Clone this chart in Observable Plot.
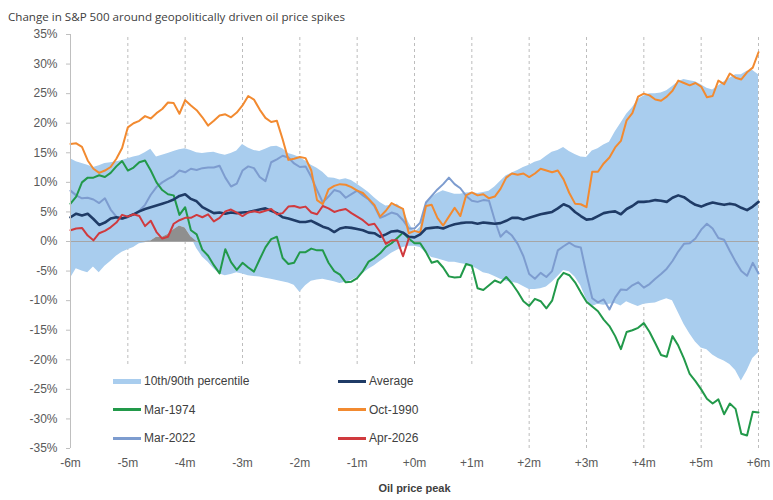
<!DOCTYPE html>
<html><head><meta charset="utf-8">
<script src="https://cdn.jsdelivr.net/npm/d3@7"></script>
<script src="https://cdn.jsdelivr.net/npm/@observablehq/plot@0.6"></script>
<style>
html,body{margin:0;padding:0;background:#fff;}
#wrap{position:relative;width:773px;height:500px;overflow:hidden;font-family:"Liberation Sans",Arial,sans-serif;}
#title{position:absolute;left:8px;top:9px;font-family:"Open Sans";font-size:11.6px;color:#404040;line-height:16px;white-space:nowrap}
#chart{position:absolute;left:0;top:26px;}
#legend{position:absolute;left:100px;top:365px;width:410px;height:84px;background:#fff;}
.item{position:absolute;display:flex;align-items:center;font-size:12px;color:#404040;white-space:nowrap;height:16px}
.sw{display:inline-block;width:28px;margin-right:3px}
</style></head>
<body>
<div id="wrap">
  <div id="title">Change in S&amp;P 500 around geopolitically driven oil price spikes</div>
  <div id="chart"></div>
  <div id="legend"></div>
</div>
<script>
// x grid: months relative to oil price peak (sampled every 0.1 month)
const months = d3.range(121).map(i => Math.round((-6 + i / 10) * 10) / 10);
const xTicks = [-6, -5, -4, -3, -2, -1, 0, 1, 2, 3, 4, 5, 6];
const gridMonths = [-5, -4, -3, -2, -1, 0, 1, 2, 3, 4, 5, 6];
const yTicks = [-35, -30, -25, -20, -15, -10, -5, 0, 5, 10, 15, 20, 25, 30, 35];

const band90 = [14.0, 13.5, 13.2, 12.9, 12.5, 12.8, 13.2, 13.3, 13.5, 13.7,
  14.0, 14.3, 14.5, 15.0, 15.6, 14.3, 14.6, 14.9, 15.2, 15.5,
  15.7, 15.4, 15.0, 14.9, 15.0, 15.1, 14.8, 14.6, 14.9, 15.3,
  16.4, 15.8, 15.4, 15.2, 15.6, 16.0, 16.1, 15.7, 14.9, 14.6,
  14.2, 13.6, 12.9, 12.4, 11.7, 10.8, 10.7, 10.4, 10.6, 10.3,
  9.7, 9.0, 8.3, 7.4, 6.6, 6.0, 6.1, 6.3, 5.5, 3.2,
  1.5, 2.4, 6.4, 7.5, 8.1, 8.6, 8.3, 8.0, 8.0, 8.2,
  8.3, 8.1, 8.3, 8.5, 9.2, 10.2, 11.1, 11.6, 12.0, 12.5,
  12.9, 13.4, 13.7, 14.4, 15.1, 15.4, 15.9, 15.2, 14.7, 14.3,
  14.2, 15.3, 15.7, 16.3, 16.8, 18.5, 20.0, 21.5, 22.6, 24.0,
  24.6, 25.0, 25.0, 25.1, 25.5, 26.2, 27.0, 27.4, 27.2, 27.0,
  26.5, 25.9, 25.6, 26.3, 27.0, 27.6, 28.2, 28.2, 28.8, 28.9,
  28.2];
const band10 = [-6.2, -4.6, -5.0, -5.3, -4.3, -5.3, -4.2, -3.4, -2.5, -1.8,
  -1.4, -1.0, -0.4, -0.2, 0.1, 0.7, 0.7, 1.2, 2.0, 2.6,
  2.3, 0.8, -1.2, -2.6, -3.5, -4.6, -5.5, -5.8, -5.6, -5.3,
  -5.5, -5.8, -5.9, -6.0, -6.2, -6.4, -6.6, -6.8, -7.0, -7.4,
  -8.6, -7.5, -6.7, -6.5, -6.4, -6.6, -6.8, -7.1, -6.9, -6.6,
  -6.1, -5.4, -4.7, -4.1, -3.4, -2.7, -2.0, -1.5, -1.0, -0.8,
  -0.8, -1.0, -1.9, -2.7, -2.9, -3.2, -3.5, -3.5, -3.7, -3.9,
  -4.2, -4.7, -5.3, -5.5, -5.9, -6.4, -6.7, -6.9, -7.1, -7.6,
  -8.1, -8.1, -8.0, -7.7, -6.9, -5.9, -4.9, -5.1, -6.0, -7.5,
  -9.8, -11.0, -10.6, -10.8, -10.6, -10.5, -10.9, -10.2, -10.6, -11.0,
  -10.6, -10.5, -10.4, -10.0, -9.7, -10.0, -12.0, -14.0, -15.6, -17.0,
  -18.0, -18.3, -19.2, -19.8, -20.2, -20.8, -21.8, -23.6, -21.9, -19.8,
  -18.8];
const average = [4.1, 4.7, 4.4, 4.7, 3.8, 2.8, 3.2, 3.9, 4.1, 3.9,
  4.2, 4.6, 5.1, 5.5, 5.8, 6.1, 6.4, 6.7, 7.1, 7.7,
  8.0, 7.2, 6.8, 5.8, 5.3, 4.8, 4.9, 4.7, 4.9, 4.8,
  4.9, 5.0, 5.2, 5.4, 5.6, 5.2, 4.8, 4.1, 3.9, 3.6,
  3.3, 3.3, 3.5, 3.0, 2.5, 2.2, 1.6, 2.2, 2.4, 2.3,
  2.1, 1.9, 1.5, 1.4, 0.8, 1.2, 1.7, 1.8, 1.5, 0.8,
  0.7, 1.2, 2.2, 2.3, 2.4, 2.2, 2.6, 2.9, 3.1, 3.2,
  3.2, 3.0, 3.2, 3.1, 3.0, 3.1, 3.5, 4.0, 4.0, 3.7,
  4.0, 4.3, 4.6, 4.8, 5.0, 5.6, 6.3, 5.9, 5.0, 4.3,
  3.7, 3.8, 4.3, 4.8, 5.0, 5.1, 4.6, 5.5, 6.0, 6.7,
  6.7, 6.8, 7.0, 6.9, 6.7, 7.4, 7.8, 7.5, 6.8, 6.2,
  5.9, 6.3, 6.6, 6.4, 6.2, 6.4, 6.2, 5.7, 5.3, 5.9,
  6.7];
const mar1974 = [6.4, 7.6, 10.0, 10.8, 10.8, 11.2, 10.9, 11.6, 12.7, 13.6,
  12.0, 12.5, 13.4, 13.7, 12.0, 10.0, 8.7, 8.0, 7.8, 4.5,
  5.8, 1.9, 1.2, -1.4, -2.4, -4.0, -5.4, -1.3, -3.5, -4.8,
  -3.6, -4.4, -5.1, -3.0, -1.0, 0.4, 0.8, -2.8, -3.8, -3.6,
  -1.8, -1.8, -1.2, -1.5, -1.5, -3.6, -5.0, -5.6, -6.9, -6.8,
  -6.2, -5.0, -3.4, -2.8, -2.0, -0.9, -0.3, 0.6, 1.5, 0.5,
  -0.3, -0.3, -1.8, -3.6, -3.3, -4.4, -5.9, -6.1, -6.0, -3.8,
  -4.1, -7.9, -8.2, -7.4, -6.6, -7.0, -6.0, -7.1, -8.5, -10.1,
  -10.9, -9.7, -10.1, -11.3, -10.0, -6.5, -5.3, -5.7, -6.9, -8.6,
  -10.2, -11.0, -11.8, -13.2, -14.3, -16.0, -18.2, -15.3, -15.0, -14.6,
  -13.8, -15.3, -17.2, -19.2, -19.5, -16.0, -17.6, -19.8, -22.4, -23.6,
  -25.0, -26.6, -27.4, -26.7, -29.2, -27.4, -28.3, -32.5, -32.8, -28.8,
  -28.9];
const oct1990 = [16.5, 16.6, 16.0, 13.7, 12.3, 11.6, 12.0, 12.6, 14.0, 15.8,
  19.3, 20.0, 20.4, 21.2, 20.8, 21.7, 22.4, 23.5, 23.4, 21.6,
  23.9, 23.0, 22.2, 21.0, 19.6, 20.4, 21.3, 21.5, 21.0, 21.8,
  23.0, 24.6, 24.0, 22.3, 20.9, 20.2, 20.4, 17.3, 13.8, 14.0,
  14.3, 14.1, 12.0, 7.0, 6.3, 8.8, 9.4, 9.7, 9.6, 9.2,
  8.6, 8.2, 7.2, 6.2, 4.2, 5.2, 6.5, 6.0, 5.5, 1.4,
  1.8, 1.5, 6.0, 6.2, 4.0, 2.7, 4.2, 5.7, 4.3, 7.8,
  8.3, 7.8, 8.0, 7.3, 7.6, 8.9, 10.8, 11.5, 11.3, 11.5,
  10.9, 11.5, 12.3, 12.0, 11.7, 12.0, 10.5, 8.2, 6.4, 6.3,
  5.8, 11.8, 11.8, 13.2, 14.2, 15.9, 17.0, 20.5, 21.7, 24.5,
  25.0, 24.7, 24.0, 23.8, 24.5, 25.5, 27.2, 26.8, 26.4, 26.8,
  26.2, 24.4, 24.6, 27.2, 26.6, 28.4, 27.7, 27.4, 28.6, 29.4,
  32.0];
const mar2022 = [8.6, 7.8, 7.3, 7.4, 7.1, 6.5, 7.3, 5.4, 4.2, 3.8,
  4.2, 4.6, 5.2, 6.2, 7.9, 9.2, 10.0, 10.6, 11.1, 12.0,
  11.7, 12.3, 12.1, 12.4, 12.5, 12.5, 12.8, 10.8, 9.3, 9.8,
  12.0, 12.7, 12.4, 10.9, 10.2, 13.4, 13.9, 14.5, 14.2, 13.2,
  12.6, 12.7, 10.9, 8.7, 6.6, 7.6, 8.7, 8.4, 7.4, 8.0,
  8.6, 7.8, 7.1, 6.0, 4.0, 4.4, 4.9, 4.6, 3.6, 2.2,
  2.2, 3.2, 6.6, 7.7, 8.8, 9.7, 10.8, 9.7, 9.0, 7.7,
  6.9, 6.7, 7.0, 6.9, 3.6, 0.8, 1.8, 1.0, -0.4, -2.5,
  -5.5, -6.3, -5.3, -6.0, -5.0, -1.5, -0.8, -0.2, -0.8, -1.0,
  -5.5, -9.6, -10.3, -9.8, -11.5, -9.5, -8.1, -8.2, -7.4, -6.9,
  -7.8, -7.2, -6.3, -5.5, -4.6, -3.3, -1.7, -0.4, -0.3, 0.5,
  2.0, 3.0, 2.2, 0.6, 0.3, -1.6, -3.4, -5.0, -5.8, -3.6,
  -5.4];
const apr2026 = [1.9, 2.2, 2.3, 1.0, 0.2, 1.4, 1.8, 2.4, 3.2, 4.5,
  4.2, 4.6, 4.3, 2.6, 3.5, 1.6, 0.5, 0.8, 3.0, 3.6,
  4.0, 4.0, 4.5, 4.1, 4.6, 3.4, 4.0, 5.1, 5.4, 4.9,
  4.3, 4.9, 5.1, 4.9, 5.2, 5.5, 4.6, 4.8, 5.9, 6.0,
  5.7, 5.9, 4.9, 4.6, 6.0, 5.6, 5.0, 5.3, 5.5, 4.8,
  4.2, 3.6, 2.8, 3.0, 1.6, -0.4, 0.2, 0.2, -2.5, 0.5];

const seriesNames = ["Mar-2022", "Oct-1990", "Mar-1974", "Average", "Apr-2026"];
const colors = {
  "band": "#a9cdee",
  "Average": "#1f3b66",
  "Mar-1974": "#22994a",
  "Oct-1990": "#f28a30",
  "Mar-2022": "#7d9ccf",
  "Apr-2026": "#d03a3e",
  "gray": "#8f8f8f"
};

const bandRows = months.map((m, i) => ({m, lo: band10[i], hi: band90[i]}));
const grayRows = bandRows.filter(d => d.m >= -4.8 && d.m <= -3.8);
const seriesData = {
  "Average": average, "Mar-1974": mar1974, "Oct-1990": oct1990,
  "Mar-2022": mar2022, "Apr-2026": apr2026
};
const lineRows = seriesNames.flatMap(name =>
  seriesData[name].map((v, i) => ({m: months[i], v, name})));

const fmtX = d => (d < 0 ? "-" : "+") + Math.abs(d) + "m";

const lineMarks = seriesNames.map(name =>
  Plot.lineY(lineRows.filter(d => d.name === name), {
    x: "m", y: "v", stroke: colors[name],
    strokeWidth: name === "Average" ? 2.6 : 2, strokeLinejoin: "round"
  }));

const chart = Plot.plot({
  width: 773, height: 474,
  marginTop: 8, marginBottom: 52, marginLeft: 70, marginRight: 15,
  style: {fontFamily: "'Liberation Sans', Arial, sans-serif", fontSize: "12px", background: "transparent"},
  x: {domain: [-6, 6]},
  y: {domain: [-35, 35]},
  marks: [
    Plot.ruleX(gridMonths, {y1: -35, y2: 35, stroke: "#bdbdbd", strokeDasharray: "3,3"}),
    Plot.areaY(bandRows, {x: "m", y1: "lo", y2: "hi", fill: colors.band}),
    Plot.areaY(grayRows, {x: "m", y1: 0, y2: d => Math.max(0, d.lo), fill: colors.gray}),
    Plot.ruleY([0], {stroke: "#a6a6a6", strokeWidth: 1}),
    ...lineMarks,
    Plot.ruleX([-6], {y1: -35, y2: 35, stroke: "#bfbfbf"}),
    Plot.axisY(yTicks, {tickSize: 4, tickPadding: 9, tickFormat: d => d + "%", stroke: "#bfbfbf", fill: "#595959", fontSize: 12, label: null}),
    Plot.axisX(xTicks, {tickSize: 0, tickPadding: 10, tickFormat: fmtX, fill: "#595959", fontSize: 12, label: null}),
    Plot.text(["Oil price peak"], {frameAnchor: "bottom", dy: 43, fontWeight: "bold", fill: "#404040", fontSize: 11})
  ]
});
document.getElementById("chart").appendChild(chart);

// legend
const legendItems = [
  {label: "10th/90th percentile", key: "band", h: 5, col: 0, row: 0},
  {label: "Average", key: "Average", h: 3, col: 1, row: 0},
  {label: "Mar-1974", key: "Mar-1974", h: 3, col: 0, row: 1},
  {label: "Oct-1990", key: "Oct-1990", h: 3, col: 1, row: 1},
  {label: "Mar-2022", key: "Mar-2022", h: 3, col: 0, row: 2},
  {label: "Apr-2026", key: "Apr-2026", h: 3, col: 1, row: 2}
];
const legend = document.getElementById("legend");
const colLeft = [13, 238], rowTop = [8, 36.5, 65];
legendItems.forEach(it => {
  const div = document.createElement("div");
  div.className = "item";
  div.style.left = colLeft[it.col] + "px";
  div.style.top = rowTop[it.row] + "px";
  const sw = document.createElement("span");
  sw.className = "sw";
  sw.style.height = it.h + "px";
  sw.style.background = colors[it.key];
  div.appendChild(sw);
  div.appendChild(document.createTextNode(it.label));
  legend.appendChild(div);
});
</script>
</body></html>
